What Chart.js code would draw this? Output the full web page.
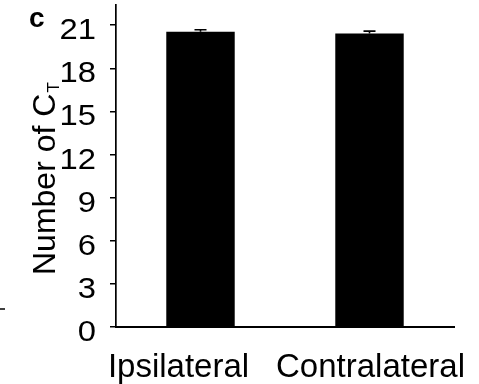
<!DOCTYPE html>
<html>
<head>
<meta charset="utf-8">
<script src="https://cdn.jsdelivr.net/npm/chart.js@4"></script>
<style>
  html, body { margin: 0; padding: 0; background: #fff; }
  canvas { display: block; }
</style>
</head>
<body>
<canvas id="c" width="479" height="384"></canvas>
<script>
// ---- data ----
const categories = ["Ipsilateral", "Contralateral"];
const meanCT = [20.54, 20.42];
const errCT = [0.14, 0.16];
const yTickValues = [0, 3, 6, 9, 12, 15, 18, 21];
const yTitleMain = "Number of C";
const yTitleSub = "T";
const panelLabel = "c";

const FONT = "'Liberation Sans', Arial, Helvetica, sans-serif";

const overlay = {
  id: 'overlay',
  afterDraw(chart) {
    const ctx = chart.ctx;
    const xs = chart.scales.x, ys = chart.scales.y;
    ctx.save();
    ctx.fillStyle = '#000';
    ctx.strokeStyle = '#000';

    // error bars
    ctx.lineWidth = 1.6;
    meanCT.forEach((m, i) => {
      const x = xs.getPixelForValue(i);
      const yTop = ys.getPixelForValue(m + errCT[i]);
      const yMid = ys.getPixelForValue(m);
      ctx.beginPath();
      ctx.moveTo(x, yMid); ctx.lineTo(x, yTop);
      ctx.moveTo(x - 6, yTop); ctx.lineTo(x + 6, yTop);
      ctx.stroke();
    });

    // y tick labels (slightly wide, like the original)
    ctx.font = "29px " + FONT;
    ctx.textAlign = 'right';
    ctx.textBaseline = 'alphabetic';
    ys.ticks.forEach(t => {
      const y = ys.getPixelForValue(t.value);
      ctx.save();
      ctx.translate(96, y + 14);
      ctx.scale(1.13, 1);
      ctx.fillText(String(t.value), 0, 0);
      ctx.restore();
    });

    // x category labels
    const labelShift = [-22, 1];
    ctx.font = "33px " + FONT;
    ctx.textAlign = 'center';
    categories.forEach((c, i) => {
      ctx.fillText(c, xs.getPixelForValue(i) + labelShift[i], 377);
    });

    // y title with subscript
    ctx.save();
    ctx.translate(55, 275);
    ctx.rotate(-Math.PI / 2);
    ctx.textAlign = 'left';
    ctx.font = "32px " + FONT;
    ctx.fillText(yTitleMain, 0, 0);
    const w = ctx.measureText(yTitleMain).width;
    ctx.font = "17px " + FONT;
    ctx.fillText(yTitleSub, w + 1, 4);
    ctx.restore();

    // panel label
    ctx.font = "bold 28px " + FONT;
    ctx.textAlign = 'left';
    ctx.fillText(panelLabel, 29, 27);

    // stray mark from neighbouring panel
    ctx.lineWidth = 1.5;
    ctx.beginPath();
    ctx.moveTo(0, 309); ctx.lineTo(5, 309);
    ctx.stroke();

    ctx.restore();
  }
};

new Chart(document.getElementById('c'), {
  type: 'bar',
  data: {
    labels: categories,
    datasets: [{
      data: meanCT,
      backgroundColor: '#000',
      borderWidth: 0,
      barPercentage: 0.405,
      categoryPercentage: 1.0
    }]
  },
  options: {
    responsive: false,
    animation: false,
    devicePixelRatio: 1,
    layout: { padding: { left: 0, top: 5, right: 25, bottom: 0 } },
    plugins: { legend: { display: false }, tooltip: { enabled: false }, title: { display: false } },
    scales: {
      x: {
        grid: { display: false },
        border: { display: true, color: '#000', width: 2 },
        ticks: { display: false },
        afterFit(s) { s.height = 57; }
      },
      y: {
        min: 0,
        max: 22.4,
        afterBuildTicks(s) { s.ticks = yTickValues.map(v => ({ value: v })); },
        grid: { drawOnChartArea: false, drawTicks: true, tickLength: 6, color: '#000', lineWidth: 1.5 },
        border: { display: true, color: '#000', width: 1.7 },
        ticks: { display: false },
        afterFit(s) { s.width = 116; }
      }
    }
  },
  plugins: [overlay]
});
</script>
</body>
</html>
